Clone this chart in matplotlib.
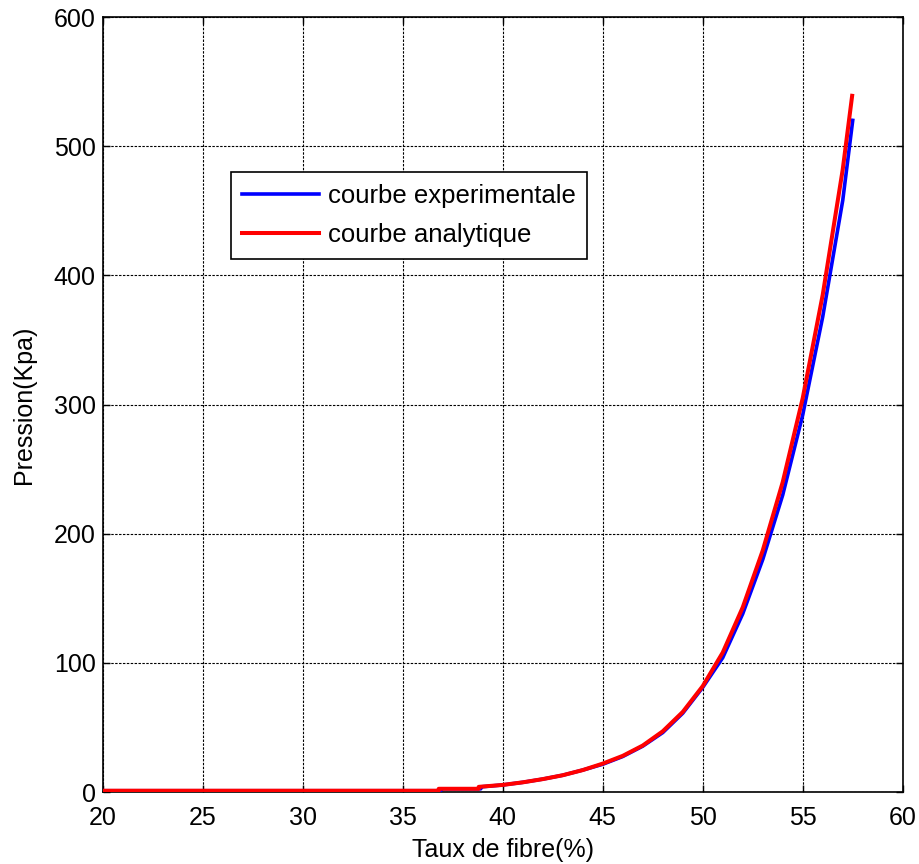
import matplotlib
matplotlib.use("Agg")
import matplotlib.pyplot as plt

plt.rcParams['font.family'] = ['Liberation Sans', 'DejaVu Sans']

# analytic curve (red)
x_ana = [20, 36.8, 36.8, 38.8, 38.8, 40, 41, 42, 43, 44, 45, 46, 47, 48, 49, 50,
         51, 52, 53, 54, 55, 56, 57, 57.47]
y_ana = [1, 1, 2.5, 2.5, 4, 5.5, 7.5, 10, 13, 17, 22, 28, 36, 47, 62, 82,
         108, 143, 187, 240, 305, 385, 482, 539]

# experimental curve (blue)
x_exp = [20, 36.9, 36.9, 38.9, 38.9, 40, 41, 42, 43, 44, 45, 46, 47, 48, 49, 50,
         51, 52, 53, 54, 55, 56, 57, 57.5]
y_exp = [1, 1, 2.5, 2.5, 4, 5.5, 7.5, 10, 13, 17, 21.5, 27.5, 35.5, 46, 61, 81,
         104, 138, 180, 230, 292, 368, 458, 520]

xticks = [20, 25, 30, 35, 40, 45, 50, 55, 60]
yticks = [0, 100, 200, 300, 400, 500, 600]

FS = 18

fig = plt.figure(figsize=(9.19, 8.64), dpi=100)
ax = fig.add_axes([0.1118, 0.0833, 0.8705, 0.897])

ax.plot(x_exp, y_exp, color='#0000ff', lw=2.6, label='courbe experimentale', zorder=3)
ax.plot(x_ana, y_ana, color='#ff0000', lw=2.9, label='courbe analytique', zorder=4)

ax.set_xlim(20, 60)
ax.set_ylim(0, 600)
ax.set_xticks(xticks)
ax.set_yticks(yticks)
ax.grid(True, color='black', linestyle=(0, (2.2, 1.3)), lw=0.8)
ax.tick_params(direction='in', top=True, right=True, labelsize=FS, length=5, width=1)
ax.tick_params(axis='y', pad=5)
ax.tick_params(axis='x', pad=10)
for s in ax.spines.values():
    s.set_linewidth(1.2)

ax.set_xlabel('Taux de fibre(%)', fontsize=FS, labelpad=6)
ax.set_ylabel('Pression(Kpa)', fontsize=FS, labelpad=13)

leg = ax.legend(loc='upper left', bbox_to_anchor=(0.160, 0.80), fontsize=18.5,
                frameon=True, fancybox=False, edgecolor='black', framealpha=1,
                handlelength=3.0, handletextpad=0.32, borderpad=0.45, labelspacing=0.6,
                borderaxespad=0)
leg.get_frame().set_linewidth(1.2)

fig.savefig('out.png', dpi=100)
